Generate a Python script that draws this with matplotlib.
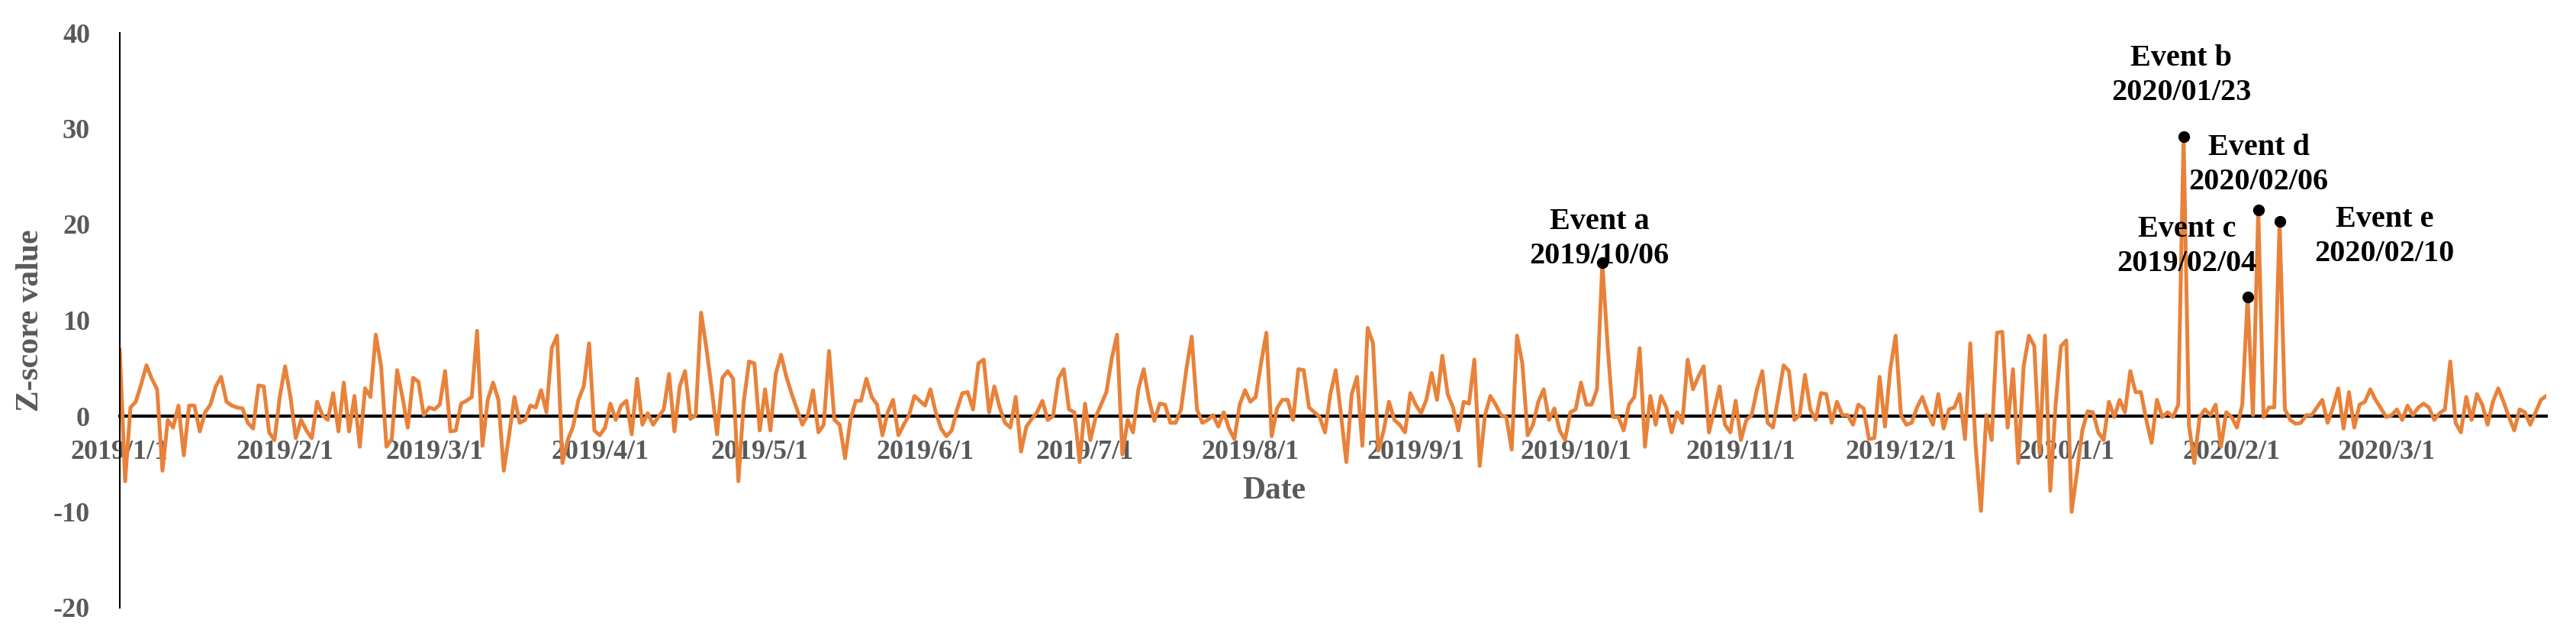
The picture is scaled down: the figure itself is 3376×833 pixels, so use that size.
import numpy as np
import pandas as pd
import matplotlib
matplotlib.use("Agg")
import matplotlib.pyplot as plt

plt.rcParams['font.family'] = ['Liberation Serif', 'DejaVu Serif']
plt.rcParams['font.weight'] = 'bold'
plt.rcParams['axes.unicode_minus'] = False

# daily z-scores, 2019-01-01 .. 2020-03-31
jan_feb_2019 = [6.9, -6.8, 0.9, 1.5, 3.3, 5.3, 3.9, 2.8, -5.7, -0.4, -1.2, 1.1, -4.1, 1.1, 1.1, -1.6,
                0.4, 1.2, 3.1, 4.1, 1.5, 1.1, 0.9, 0.8, -0.7, -1.3, 3.2, 3.1, -1.7, -2.5, 2.0, 5.2,
                2.0, -2.3, -0.4, -1.5, -2.3, 1.5, 0.1, -0.4, 2.4, -1.6, 3.5, -1.6, 2.1, -3.2, 2.9,
                2.0, 8.5, 5.2, -3.2, -2.4, 4.8, 2.0, -1.2, 4.0, 3.6, 0.1, 0.9]
mar_apr_2019 = [0.7, 1.2, 4.7, -1.6, -1.5, 1.3, 1.6, 2.0, 8.9, -3.1, 1.7, 3.5, 1.7, -5.7, -2.0, 2.0,
                -0.7, -0.4, 1.1, 0.9, 2.7, 0.4, 7.1, 8.4, -4.9, -2.5, -1.1, 1.7, 3.1, 7.6, -1.5,
                -2.0, -1.2, 1.3, -0.4, 1.1, 1.6, -1.9, 3.9, -0.9, 0.3, -0.9, -0.1, 0.7, 4.4, -1.6,
                3.1, 4.7, -0.3, 0.1, 10.8, 7.1, 2.8, -1.9, 4.0, 4.7, 3.9, -6.8, 1.5]
may_jun_2019 = [5.7, 5.5, -1.5, 2.8, -1.5, 4.4, 6.4, 4.1, 2.3, 0.7, -0.9, 0.1, 2.7, -1.7, -0.9, 6.8,
                -0.4, -0.9, -4.4, -0.4, 1.6, 1.6, 3.9, 2.0, 1.2, -2.0, 0.4, 1.7, -2.0, -0.9, 0.1,
                2.1, 1.6, 1.1, 2.8, 0.4, -1.3, -2.1, -1.5, 0.7, 2.4, 2.5, 0.7, 5.5, 5.9, 0.4, 3.1,
                0.9, -0.7, -1.2, 2.0, -3.7, -1.1, -0.3, 0.4, 1.6, -0.4, 0.0, 3.9]
jul_aug_2019 = [4.9, 0.7, 0.4, -4.8, 1.3, -2.5, -0.1, 1.2, 2.5, 6.0, 8.5, -4.0, -0.4, -1.7, 2.8, 4.9,
                1.7, -0.5, 1.3, 1.2, -0.7, -0.7, 0.7, 4.9, 8.3, 0.7, -0.7, -0.4, 0.1, -1.1, 0.4,
                -1.3, -2.4, 1.2, 2.7, 1.5, 2.0, 5.5, 8.7, -2.1, 0.8, 1.7, 1.7, -0.4, 4.9, 4.8, 0.9,
                0.4, -0.1, -1.7, 2.3, 4.8, 0.1, -4.8, 2.3, 4.1, -3.1, 9.2]
sep_oct_2019 = [7.6, -3.6, -1.5, 1.5, -0.4, -0.9, -1.7, 2.4, 1.2, 0.3, 1.7, 4.5, 1.7, 6.3, 2.3, 0.9,
                -1.5, 1.5, 1.3, 5.9, -5.2, 0.1, 2.1, 1.2, 0.1, -0.1, -3.5, 8.4, 5.5, -2.0, -0.9,
                1.5, 2.8, -0.4, 0.8, -1.5, -2.5, 0.4, 0.7, 3.5, 1.2, 1.2, 2.8, 16.0, 7.3, -0.1,
                -0.1, -1.5, 1.2, 2.0, 7.1, -3.2, 2.1, -0.9, 2.1, 0.9, -1.7, 0.4, -0.7]
nov_dec_2019 = [5.9, 2.8, 4.1, 5.2, -1.7, 0.7, 3.1, -0.9, -1.7, 1.6, -2.5, -0.4, 0.1, 2.8, 4.7, -0.7,
                -1.2, 2.0, 5.3, 4.7, -0.4, 0.1, 4.3, 0.7, -0.4, 2.4, 2.3, -0.7, 1.5, 0.1, 0.1,
                -0.9, 1.2, 0.8, -2.4, -2.3, 4.1, -1.1, 4.9, 8.4, 0.1, -0.9, -0.7, 0.9, 2.0, 0.4,
                -0.9, 2.3, -1.3, 0.7, 0.9, 2.3, -2.4, 7.6, -3.1, -9.9, 0.1, -2.5, 8.7]
jan_mar_2020 = [8.8, -1.2, 4.9, -4.9, 5.2, 8.4, 7.3, -3.9, 8.4, -7.8, 1.2, 7.3, 7.9, -10.0, -5.9,
                -1.5, 0.5, 0.4, -1.7, -2.5, 1.5, -0.1, 1.7, 0.4, 4.7, 2.5, 2.5, -0.4, -2.8, 1.7,
                -0.1, 0.4, -0.1, 1.2, 29.2, -0.9, -4.9, -0.1, 0.7, 0.1, 1.2, -3.2, 0.4, -0.1,
                -1.2, 1.2, 12.4, 0.1, 21.5, -0.1, 0.9, 0.9, 20.3, 0.7, -0.4, -0.8, -0.7, 0.1,
                0.1, 0.9, 1.7, -0.7, 0.9, 2.9, -1.3, 2.5, -1.2, 1.2, 1.5, 2.8, 1.7, 0.8, -0.1,
                0.1, 0.7, -0.4, 1.1, 0.1, 0.9, 1.3, 0.9, -0.4, 0.3, 0.7, 5.7, -0.7, -1.7, 2.0,
                -0.4, 2.3, 1.2, -0.9, 1.5, 2.9, 1.5, -0.1, -1.5, 0.7, 0.4, -0.9, 0.4, 1.7, 2.1]

zscores = (jan_feb_2019 + mar_apr_2019 + may_jun_2019 + jul_aug_2019
           + sep_oct_2019 + nov_dec_2019 + jan_mar_2020)
dates = pd.date_range("2019-01-01", periods=len(zscores), freq="D")
series = pd.Series(zscores, index=dates)

event_dates = ["2019-10-06", "2020-01-23", "2020-02-04", "2020-02-06", "2020-02-10"]
event_names = ["Event a", "Event b", "Event c", "Event d", "Event e"]
event_labels = ["2019/10/06", "2020/01/23", "2019/02/04", "2020/02/06", "2020/02/10"]
# label centre positions in figure pixels (x, top of first line)
label_pos = [(2096, 272), (2859, 58), (2866, 282), (2960, 175), (3125, 269)]

tick_months = pd.date_range("2019-01-01", "2020-03-01", freq="MS")
tick_labels = ["{}/{}/1".format(d.year, d.month) for d in tick_months]

W, H = 3376, 833
fig = plt.figure(figsize=(W / 100, H / 100), dpi=100)
ax = fig.add_axes([157 / W, 1 - 796 / H, (3337 - 157) / W, (796 - 43) / H])

ax.plot(series.index, series.values, color="#E8823A", lw=3.6, zorder=2)
ev = pd.to_datetime(event_dates)
ax.plot(ev, series.loc[ev].values, "o", color="black", ms=10, zorder=3)

ax.set_xlim(dates[0], dates[-1])
ax.set_ylim(-20, 40)
ax.set_yticks(range(-20, 41, 10))
ax.set_xticks(tick_months)
ax.set_xticklabels(tick_labels)

for s in ["top", "right"]:
    ax.spines[s].set_visible(False)
ax.spines["bottom"].set_position(("data", 0))
ax.spines["bottom"].set_linewidth(3)
ax.spines["bottom"].set_zorder(1)
ax.spines["left"].set_linewidth(1.5)
ax.tick_params(axis="x", length=0, pad=22, labelsize=26, labelcolor="#595959")
ax.tick_params(axis="y", length=0, pad=28, labelsize=26, labelcolor="#595959")
for lab in ax.get_xticklabels() + ax.get_yticklabels():
    lab.set_fontweight("bold")

fig.text(40 / W, 1 - 420 / H, "Z-score value", rotation=90, ha="center", va="center",
         fontsize=30, color="#595959", fontweight="bold")
fig.text(1670 / W, 1 - 643 / H, "Date", ha="center", va="center",
         fontsize=30, color="#595959", fontweight="bold")

for name, lab, (px, py) in zip(event_names, event_labels, label_pos):
    fig.text(px / W, 1 - py / H, name + "\n" + lab, ha="center", va="top",
             fontsize=29, fontweight="bold", color="black", linespacing=1.3)

fig.savefig("out.png", dpi=100)
